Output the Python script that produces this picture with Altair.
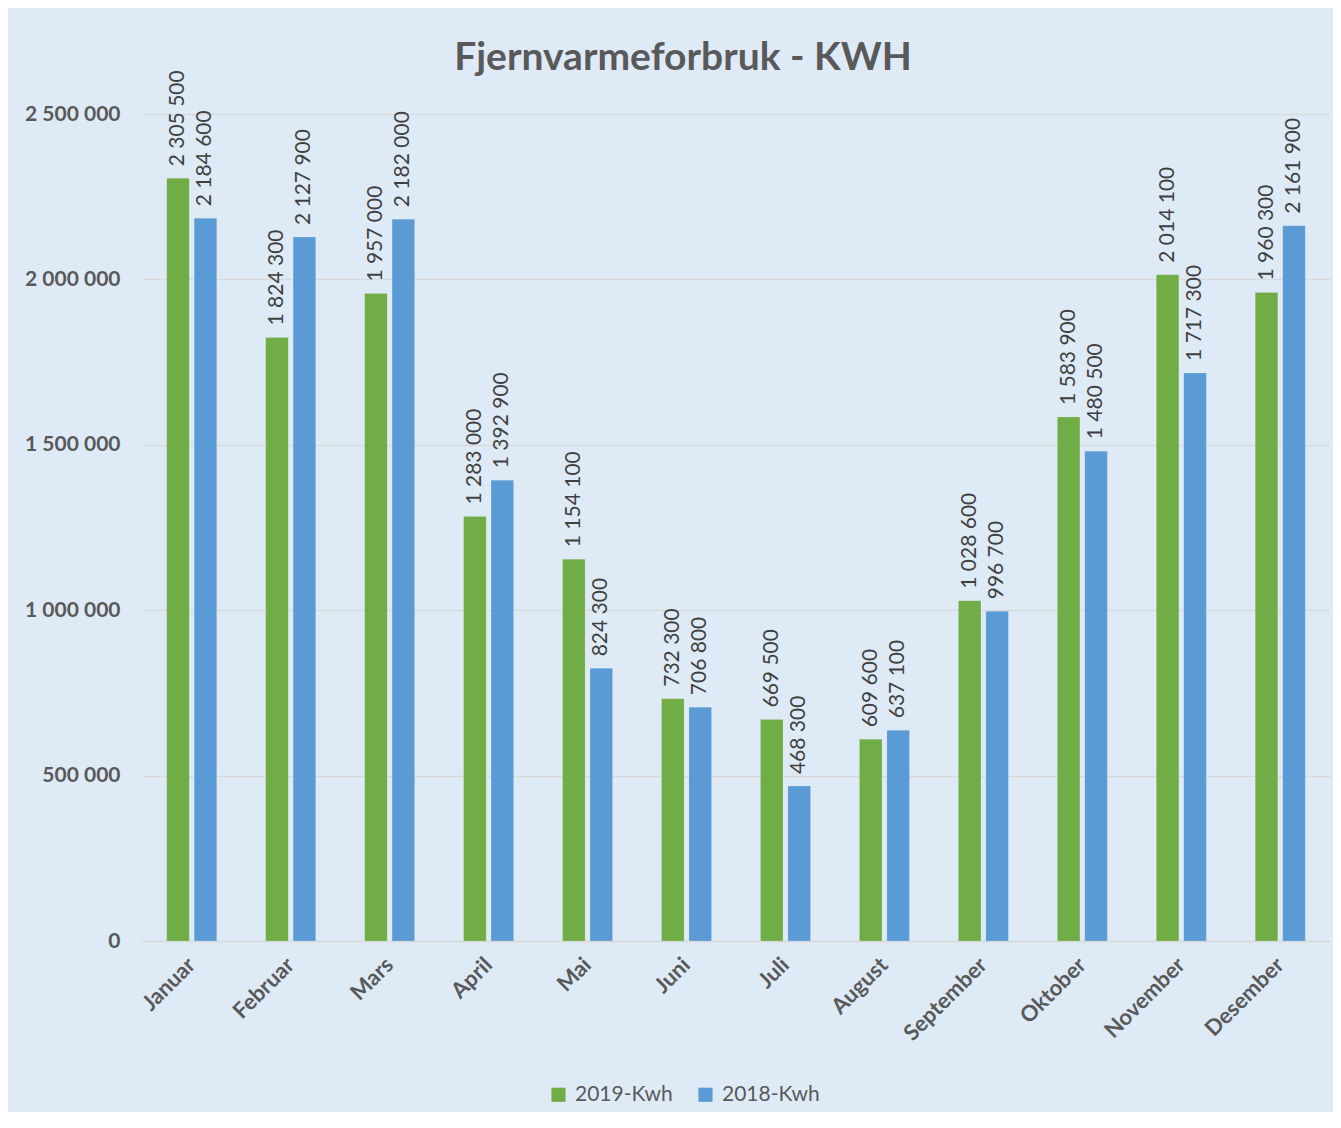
import altair as alt
import pandas as pd

months = ["Januar", "Februar", "Mars", "April", "Mai", "Juni", "Juli",
          "August", "September", "Oktober", "November", "Desember"]
series_names = ["2019-Kwh", "2018-Kwh"]
values_2019 = [2305500, 1824300, 1957000, 1283000, 1154100, 732300, 669500,
               609600, 1028600, 1583900, 2014100, 1960300]
values_2018 = [2184600, 2127900, 2182000, 1392900, 824300, 706800, 468300,
               637100, 996700, 1480500, 1717300, 2161900]
colors = ["#70AD47", "#5B9BD5"]
y_ticks = [0, 500000, 1000000, 1500000, 2000000, 2500000]

rows = []
for m, a, b in zip(months, values_2019, values_2018):
    rows.append({"month": m, "series": series_names[0], "value": a})
    rows.append({"month": m, "series": series_names[1], "value": b})
df = pd.DataFrame(rows)
df["label"] = df["value"].map(lambda v: f"{v:,}".replace(",", " "))

FONT = "Lato"
TXT = "#595959"

x_enc = alt.X("month:N", sort=months, title=None,
              scale=alt.Scale(paddingInner=0.495, paddingOuter=0.25),
              axis=alt.Axis(labelAngle=-45, labelAlign="right", labelBaseline="middle",
                            labelFont=FONT, labelFontSize=22, labelFontWeight="bold",
                            labelColor=TXT, labelPadding=20, ticks=False, tickSize=0,
                            domainColor="#D9D9D9", domainWidth=1.5, grid=False))
xo_enc = alt.XOffset("series:N", sort=series_names,
                     scale=alt.Scale(paddingInner=0.18, paddingOuter=0))
y_enc = alt.Y("value:Q", title=None,
              scale=alt.Scale(domain=[0, 2500000], nice=False),
              axis=alt.Axis(values=y_ticks, ticks=False, tickSize=0, domain=False,
                            labelFont=FONT, labelFontSize=21, labelFontWeight="bold",
                            labelColor=TXT, labelPadding=22,
                            gridColor="#D9D9D9", gridWidth=1.5,
                            labelExpr="replace(replace(format(datum.value, ','), ',', ' '), ',', ' ')"))

base = alt.Chart(df)

bars = base.mark_bar(stroke="#ffffff", strokeOpacity=0.25, strokeWidth=0.5).encode(
    x=x_enc, xOffset=xo_enc, y=y_enc,
    color=alt.Color("series:N", sort=series_names,
                    scale=alt.Scale(domain=series_names, range=colors),
                    legend=alt.Legend(title=None, orient="none", direction="horizontal",
                                      legendX=406, legendY=970,
                                      symbolType="square", symbolSize=200,
                                      symbolStrokeWidth=0, columnPadding=22,
                                      labelFont=FONT, labelFontSize=21, labelColor=TXT,
                                      labelOffset=6)),
)

labels = base.mark_text(angle=270, align="left", baseline="middle", dx=12,
                        font=FONT, fontSize=21, color="#404040").encode(
    x=alt.X("month:N", sort=months), xOffset=alt.XOffset("series:N", sort=series_names),
    y="value:Q", text="label:N",
)

chart = (bars + labels).properties(
    width=1188, height=827,
    padding={"left": 134, "top": 106, "right": 3, "bottom": 171},
    autosize=alt.AutoSizeParams(type="none"),
    background="#DEEBF7",
    title=alt.TitleParams("Fjernvarmeforbruk - KWH", font=FONT, fontSize=39,
                          fontWeight="bold", color=TXT, anchor="middle", offset=-8,
                          dx=-53),
).configure_view(stroke=None)

chart.save("out.html", embed_options={"renderer": "svg", "actions": False})
